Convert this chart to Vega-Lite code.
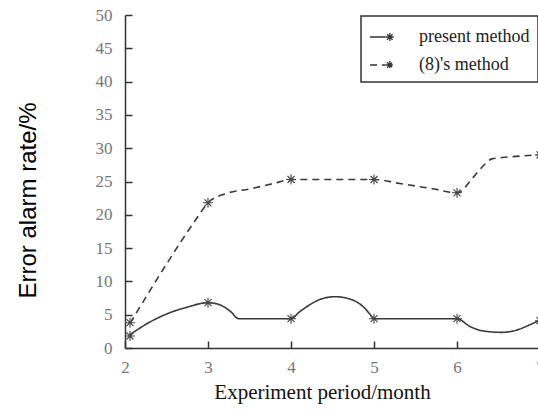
{
  "$schema": "https://vega.github.io/schema/vega-lite/v6.json",
  "width": 415,
  "height": 333,
  "autosize": {"type": "none"},
  "padding": {"left": 125, "top": 15, "right": 0, "bottom": 62},
  "background": "white",
  "config": {
    "view": {"stroke": null},
    "axis": {
      "domainColor": "#333",
      "domainWidth": 1.5,
      "tickColor": "#333",
      "tickWidth": 1.5,
      "tickSize": -7,
      "grid": false,
      "labelOverlap": false,
      "labelFlush": false,
      "labelFont": "Liberation Serif",
      "labelFontSize": 17,
      "labelColor": "#777"
    }
  },
  "datasets": {
    "lines": [
      {"method": "present method", "month": 2.06, "rate": 2.0},
      {"method": "present method", "month": 2.3, "rate": 3.9},
      {"method": "present method", "month": 2.5, "rate": 5.1},
      {"method": "present method", "month": 2.74, "rate": 6.1},
      {"method": "present method", "month": 3.0, "rate": 6.8},
      {"method": "present method", "month": 3.14, "rate": 6.5},
      {"method": "present method", "month": 3.27, "rate": 5.5},
      {"method": "present method", "month": 3.37, "rate": 4.4},
      {"method": "present method", "month": 4.0, "rate": 4.4},
      {"method": "present method", "month": 4.1, "rate": 5.4},
      {"method": "present method", "month": 4.19, "rate": 6.2},
      {"method": "present method", "month": 4.35, "rate": 7.3},
      {"method": "present method", "month": 4.53, "rate": 7.7},
      {"method": "present method", "month": 4.71, "rate": 7.35},
      {"method": "present method", "month": 4.87, "rate": 6.2},
      {"method": "present method", "month": 4.95, "rate": 5.1},
      {"method": "present method", "month": 5.0, "rate": 4.4},
      {"method": "present method", "month": 6.0, "rate": 4.4},
      {"method": "present method", "month": 6.16, "rate": 3.2},
      {"method": "present method", "month": 6.32, "rate": 2.55},
      {"method": "present method", "month": 6.54, "rate": 2.35},
      {"method": "present method", "month": 6.72, "rate": 2.7},
      {"method": "present method", "month": 6.88, "rate": 3.5},
      {"method": "present method", "month": 7.0, "rate": 4.2},
      {"method": "(8)'s method", "month": 2.06, "rate": 3.7},
      {"method": "(8)'s method", "month": 2.5, "rate": 12.6},
      {"method": "(8)'s method", "month": 2.86, "rate": 19.4},
      {"method": "(8)'s method", "month": 3.0, "rate": 21.8},
      {"method": "(8)'s method", "month": 3.22, "rate": 23.2},
      {"method": "(8)'s method", "month": 3.51, "rate": 23.9},
      {"method": "(8)'s method", "month": 3.79, "rate": 24.7},
      {"method": "(8)'s method", "month": 4.0, "rate": 25.3},
      {"method": "(8)'s method", "month": 5.0, "rate": 25.3},
      {"method": "(8)'s method", "month": 5.31, "rate": 24.7},
      {"method": "(8)'s method", "month": 5.71, "rate": 23.9},
      {"method": "(8)'s method", "month": 6.0, "rate": 23.3},
      {"method": "(8)'s method", "month": 6.2, "rate": 25.7},
      {"method": "(8)'s method", "month": 6.32, "rate": 27.4},
      {"method": "(8)'s method", "month": 6.42, "rate": 28.4},
      {"method": "(8)'s method", "month": 6.64, "rate": 28.7},
      {"method": "(8)'s method", "month": 7.0, "rate": 29.0}
    ],
    "markers": [
      {"method": "present method", "month": 2.06, "rate": 1.8},
      {"method": "present method", "month": 3, "rate": 6.8},
      {"method": "present method", "month": 4, "rate": 4.4},
      {"method": "present method", "month": 5, "rate": 4.4},
      {"method": "present method", "month": 6, "rate": 4.4},
      {"method": "present method", "month": 7, "rate": 4.1},
      {"method": "(8)'s method", "month": 2.06, "rate": 3.8},
      {"method": "(8)'s method", "month": 3, "rate": 21.8},
      {"method": "(8)'s method", "month": 4, "rate": 25.3},
      {"method": "(8)'s method", "month": 5, "rate": 25.3},
      {"method": "(8)'s method", "month": 6, "rate": 23.3},
      {"method": "(8)'s method", "month": 7, "rate": 29.0}
    ]
  },
  "encoding": {
    "x": {
      "field": "month", "type": "quantitative",
      "scale": {"domain": [2, 7], "nice": false, "zero": false},
      "axis": {
        "values": [2, 3, 4, 5, 6, 7], "format": "d", "labelPadding": 18,
        "title": "Experiment period/month",
        "titleFont": "Liberation Serif", "titleFontSize": 21, "titleFontWeight": "normal",
        "titleColor": "#111", "titleX": 197, "titleY": 50, "titleBaseline": "alphabetic", "titleAlign": "center"
      }
    },
    "y": {
      "field": "rate", "type": "quantitative",
      "scale": {"domain": [0, 50], "nice": false},
      "axis": {
        "values": [0, 5, 10, 15, 20, 25, 30, 35, 40, 45, 50], "labelPadding": 20,
        "title": "Error alarm rate/%",
        "titleFont": "Liberation Sans", "titleFontSize": 24, "titleFontWeight": "normal",
        "titleColor": "#000", "titleAngle": 270, "titleX": -90, "titleY": 185,
        "titleBaseline": "alphabetic", "titleAlign": "center"
      }
    }
  },
  "layer": [
    {
      "data": {"name": "lines"},
      "mark": {"type": "line", "interpolate": "monotone", "color": "#3a3a3a", "strokeWidth": 1.6},
      "encoding": {
        "strokeDash": {
          "field": "method", "type": "nominal",
          "scale": {"domain": ["present method", "(8)'s method"], "range": [[1, 0], [7, 5]]},
          "legend": {
            "title": null, "orient": "none", "legendX": 236, "legendY": 1,
            "strokeColor": "#333", "padding": 8,
            "symbolType": "M-1,0H0.3M0.32,0H0.98M0.65,-0.33V0.33M0.42,-0.23L0.88,0.23M0.42,0.23L0.88,-0.23",
            "symbolSize": 576, "symbolStrokeWidth": 1.3, "symbolStrokeColor": "#333",
            "symbolFillColor": "transparent",
            "labelFont": "Liberation Serif", "labelFontSize": 18, "labelColor": "#222",
            "labelOffset": 24, "rowPadding": 6,
            "encode": {"legend": {"update": {"strokeWidth": {"value": 1.5}}}}
          }
        }
      }
    },
    {
      "data": {"name": "markers"},
      "mark": {
        "type": "point", "filled": false, "size": 100, "strokeWidth": 1.1, "color": "#444", "opacity": 1,
        "shape": "M-1,0L1,0M0,-1L0,1M-0.7,-0.7L0.7,0.7M-0.7,0.7L0.7,-0.7"
      },
      "encoding": {
        "detail": {"field": "method", "type": "nominal"}
      }
    }
  ]
}
